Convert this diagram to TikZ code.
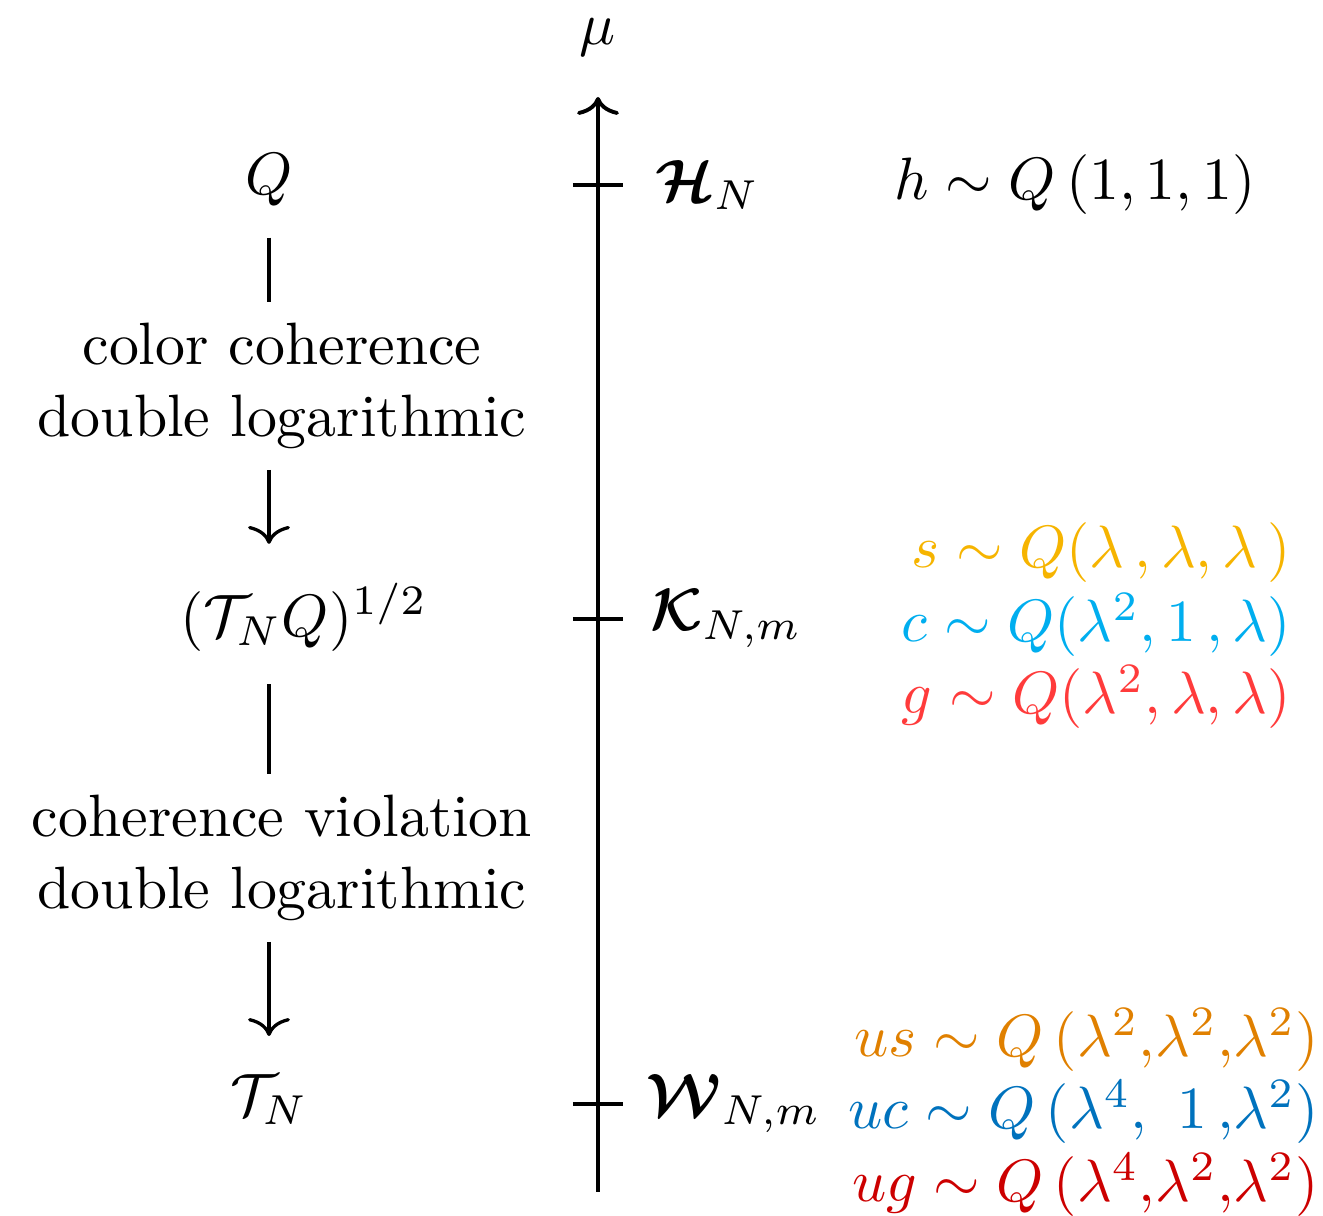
\documentclass[tikz,border=0pt]{standalone}
\usepackage{amsmath,amssymb}
\usepackage{xcolor}
\usepackage{tikz}
\usetikzlibrary{arrows.meta, positioning, calc}

\definecolor{sgold}{HTML}{F6B400}
\definecolor{ccyan}{HTML}{00AEEF}
\definecolor{gred}{HTML}{FF3B3B}
\definecolor{usorange}{HTML}{E08000}
\definecolor{ucblue}{HTML}{0072BD}
\definecolor{ugred}{HTML}{CC0000}

\begin{document}
\begin{tikzpicture}[
  x=0.1672pt, y=-0.1672pt,
  txt/.style={align=center},
  flow/.style={-{To[length=3pt, width=7pt]}, line width=0.55pt},
  bar/.style={line width=0.55pt},
  tick/.style={line width=0.6pt},
  rhs/.style={anchor=east, inner sep=0pt}
]
\useasboundingbox (0,0) rectangle (1323,1216);

\coordinate (bot) at (598,1192);
\coordinate (top) at (598,97);
\draw[-{To[length=3pt, width=7pt]}, line width=0.65pt] (bot) -- (top);
\node (mu) at (598,37) {$\mu$};

\coordinate (hk) at (598,185);
\coordinate (kk) at (598,619);
\coordinate (wk) at (598,1104);
\foreach \k in {hk,kk,wk}
  \draw[tick] ($(\k)+(-25,0)$) -- ($(\k)+(25,0)$);
\node[right=6pt of hk] (H) {$\boldsymbol{\mathcal{H}}_N$};
\node[right=5.2pt of kk] (K) {$\boldsymbol{\mathcal{K}}_{N,m}$};
\node[right=4.6pt of wk] (W) {$\boldsymbol{\mathcal{W}}_{N,m}$};

\node (Q) at (269,180) {$Q$};
\node[txt] (cc) at (282,386) {color coherence\\double logarithmic};
\node (TQ) at (304,617) {$(\mathcal{T}_N Q)^{1/2}$};
\node[txt] (cv) at (282,858) {coherence violation\\double logarithmic};
\node (T) at (269,1100) {$\mathcal{T}_N$};

\draw[bar, shorten <=1.7pt] (Q.south) -- (Q |- cc.north);
\draw[flow, shorten >=3pt] (Q |- cc.south) -- (Q |- TQ.north);
\draw[bar, shorten <=2pt] (Q |- TQ.south) -- (Q |- cv.north);
\draw[flow, shorten >=3pt] (Q |- cv.south) -- (T.north);

\node (h) at (1075,185) {$h \sim Q\,(1,1,1)$};
\node[rhs, text=sgold] (s) at (1292,553) {$s \sim Q(\lambda\,, \lambda, \lambda\,)$};
\node[rhs, text=ccyan] (c) at (1292,625) {$c \sim Q(\lambda^2, 1\,, \lambda)$};
\node[rhs, text=gred] (g) at (1292,697) {$g \sim Q(\lambda^2, \lambda, \lambda)$};
\node[rhs, text=usorange] (us) at (1320,1040) {$us \sim Q\,(\lambda^2{,}\lambda^2{,}\lambda^2)$};
\node[rhs, text=ucblue] (uc) at (1320,1112) {$uc \sim Q\,(\lambda^4,\ 1\,{,}\lambda^2)$};
\node[rhs, text=ugred] (ug) at (1320,1185) {$ug \sim Q\,(\lambda^4{,}\lambda^2{,}\lambda^2)$};
\end{tikzpicture}
\end{document}
